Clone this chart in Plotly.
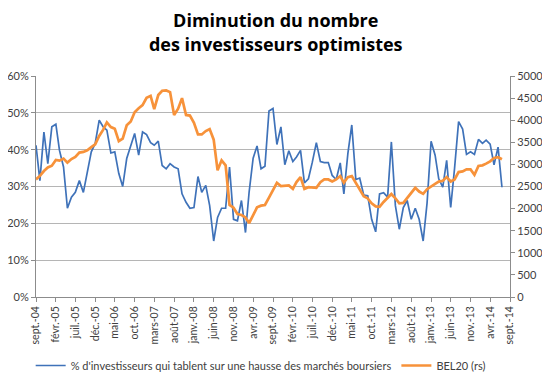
import pandas as pd
import plotly.graph_objects as go

# Monthly data, Sept 2004 -> July 2014
dates = pd.date_range("2004-09-01", periods=119, freq="MS")

investors_pct = [
    41.2, 31.6, 44.8, 36.2, 46.2, 46.9, 39.8, 35.3, 24.1, 27.1,
    28.4, 31.6, 28.4, 33.9, 39.4, 41.7, 48.0, 46.2, 45.3, 39.1,
    39.4, 33.5, 30.0, 37.6, 41.2, 44.4, 38.5, 44.8, 44.1, 41.9,
    41.2, 42.3, 35.7, 34.8, 36.2, 35.3, 34.8, 28.0, 25.7, 24.1,
    24.3, 32.7, 28.4, 30.3, 24.8, 15.2, 21.6, 24.1, 24.1, 35.3,
    21.1, 20.7, 26.2, 17.5, 28.5, 37.7, 41.0, 34.8, 35.5, 50.5,
    51.2, 41.4, 46.2, 35.9, 39.7, 36.8, 38.0, 39.8, 31.0, 32.1,
    36.6, 41.9, 36.8, 36.5, 36.5, 33.0, 31.9, 36.4, 28.0, 39.0,
    46.7, 31.9, 32.3, 27.7, 27.5, 21.1, 17.7, 28.0, 28.3, 27.1,
    42.1, 24.8, 18.4, 24.3, 26.2, 21.1, 24.1, 21.1, 15.2, 25.5,
    42.3, 38.5, 32.1, 29.8, 37.1, 24.3, 35.0, 47.6, 45.6, 38.7,
    39.4, 38.7, 42.8, 41.7, 42.6, 41.5, 35.9, 40.7, 29.8,
]

bel20 = [
    2660, 2740, 2850, 2930, 2970, 3100, 3085, 3130, 3040, 3120,
    3168, 3268, 3283, 3321, 3390, 3455, 3645, 3785, 3950, 3845,
    3805, 3526, 3585, 3885, 3970, 4180, 4270, 4340, 4505, 4550,
    4250, 4570, 4666, 4674, 4636, 4119, 4260, 4499, 4119, 4105,
    3940, 3678, 3678, 3754, 3800, 3560, 2865, 3093, 2979, 2082,
    2020, 1877, 1854, 1801, 1672, 1854, 2029, 2067, 2082, 2250,
    2409, 2584, 2508, 2508, 2523, 2447, 2599, 2713, 2447, 2485,
    2485, 2470, 2599, 2660, 2660, 2614, 2660, 2736, 2584, 2713,
    2736, 2590, 2430, 2280, 2230, 2120, 2050, 2040, 2150, 2250,
    2330, 2234, 2120, 2128, 2234, 2356, 2470, 2386, 2333, 2440,
    2510, 2560, 2610, 2630, 2713, 2614, 2660, 2827, 2842, 2888,
    2888, 2766, 2964, 2979, 3017, 3070, 3146, 3162, 3116,
]

tick_dates = pd.date_range("2004-09-01", "2014-09-01", freq="5MS")
tick_labels = [
    "sept.-04", "févr.-05", "juil.-05", "déc.-05", "mai-06", "oct.-06",
    "mars-07", "août-07", "janv.-08", "juin-08", "nov.-08", "avr.-09",
    "sept.-09", "févr.-10", "juil.-10", "déc.-10", "mai-11", "oct.-11",
    "mars-12", "août-12", "janv.-13", "juin-13", "nov.-13", "avr.-14",
    "sept.-14",
]

left_ticks = [0, 10, 20, 30, 40, 50, 60]
left_labels = [f"{v}%" for v in left_ticks]
right_ticks = list(range(0, 5001, 500))

FONT = "Lato"
TXT = "#404040"

fig = go.Figure()
fig.add_trace(go.Scatter(
    x=dates, y=investors_pct, mode="lines",
    name="% d'investisseurs qui tablent sur une hausse des marchés boursiers",
    line=dict(color="#3F72B9", width=1.7),
))
fig.add_trace(go.Scatter(
    x=dates, y=bel20, mode="lines", name="BEL20 (rs)", yaxis="y2",
    line=dict(color="#F7923A", width=2.7),
))

# page body has an 8px margin: figure drawn 8px in from the top-left corner
fig.update_layout(
    width=542, height=375,
    margin=dict(l=28, r=40, t=68, b=86, autoexpand=False),
    paper_bgcolor="white", plot_bgcolor="white",
    font=dict(family=FONT, size=11, color=TXT),
    title=dict(
        text="<b>Diminution du nombre<br>des investisseurs optimistes</b>",
        x=0.494, xanchor="center", y=0.949, yanchor="top",
        font=dict(family="Open Sans", size=18, color="#000000"),
    ),
    showlegend=True,
    legend=dict(
        orientation="h", x=0.474, xanchor="center", y=-0.31, yanchor="middle",
        font=dict(family=FONT, size=11, color=TXT),
        itemwidth=30, tracegroupgap=0,
    ),
    xaxis=dict(
        type="date", automargin=False,
        range=["2004-09-01", "2014-09-01"],
        tickmode="array", tickvals=tick_dates, ticktext=tick_labels,
        tickangle=-90, tickfont=dict(size=10.5, color=TXT),
        showgrid=False, showline=True, linecolor="#8C8C8C", linewidth=1,
        ticks="outside", ticklen=4, tickcolor="#8C8C8C",
        zeroline=False,
    ),
    yaxis=dict(
        range=[0, 60], tickmode="array", tickvals=left_ticks, ticktext=left_labels,
        automargin=False,
        showgrid=True, gridcolor="#B5B5B5", gridwidth=1,
        showline=True, linecolor="#8C8C8C", linewidth=1,
        ticks="outside", ticklen=4, tickcolor="#8C8C8C",
        zeroline=False, tickfont=dict(size=11, color=TXT),
    ),
    yaxis2=dict(
        range=[0, 5000], tickmode="array", tickvals=right_ticks,
        overlaying="y", side="right", anchor="x", automargin=False,
        showgrid=False, showline=True, linecolor="#8C8C8C", linewidth=1,
        ticks="outside", ticklen=4, tickcolor="#8C8C8C",
        zeroline=False, tickfont=dict(size=11, color=TXT),
    ),
)

fig.write_html("out.html")
